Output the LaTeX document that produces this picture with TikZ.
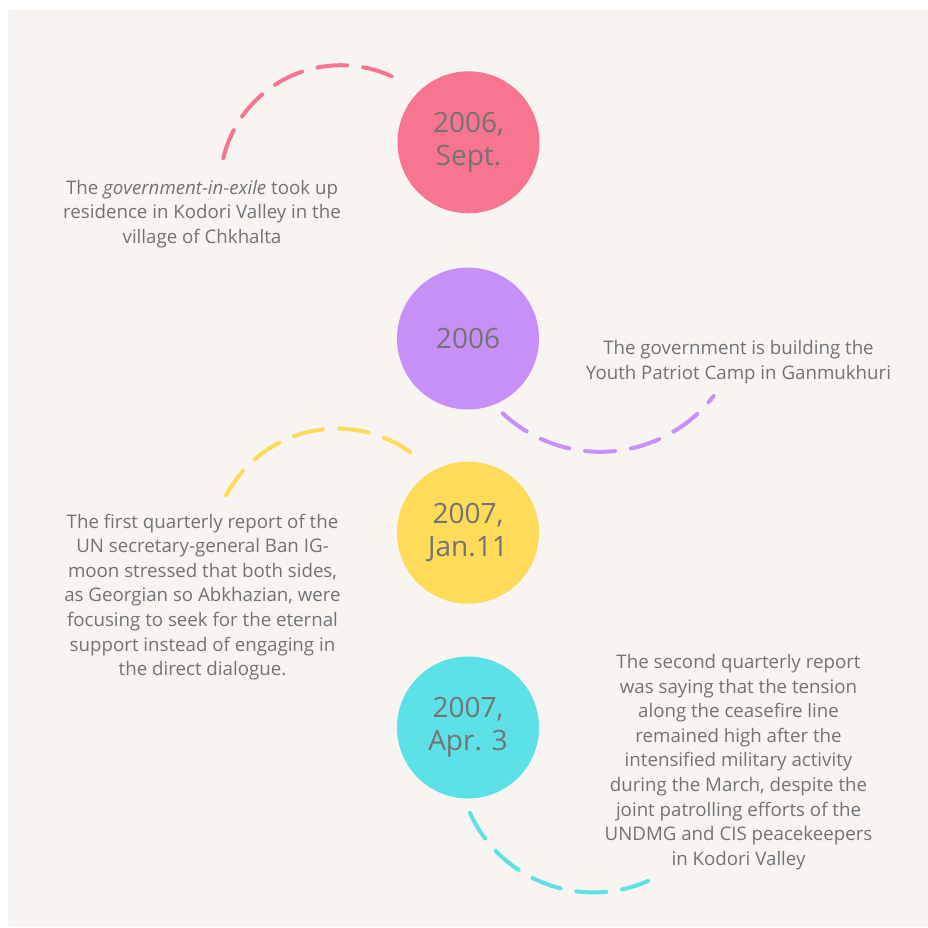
\documentclass[tikz,border=0pt]{standalone}
\usepackage{fontspec}
\setmainfont{Open Sans}
\definecolor{paper}{HTML}{F8F4F1}
\definecolor{inkgrey}{HTML}{737373}
\definecolor{rose}{HTML}{F7758F}
\definecolor{lilac}{HTML}{C78FF8}
\definecolor{sun}{HTML}{FFDB59}
\definecolor{aqua}{HTML}{5CE1E6}
\begin{document}
\begin{tikzpicture}[x=1pt,y=-1pt]
    \useasboundingbox (0,0) rectangle (928,927);
    \fill[paper] (8,10) rectangle (928,927);
    \tikzstyle{year}=[circle, minimum size=142pt, inner sep=0pt, text=inkgrey, align=center,
        font=\fontsize{28}{33}\selectfont]
    \tikzstyle{note}=[text=inkgrey, align=center, font=\fontsize{18.7}{24.6}\selectfont]
    \tikzstyle{trail}=[line width=4pt, line cap=round, dash pattern=on 30pt off 16pt]
    % years
    \node[year, fill=rose]  (sept06) at (468.5, 142.3) {2006,\\Sept.};
    \node[year, fill=lilac] (year06) at (468,   338.5) {2006};
    \node[year, fill=sun]   (jan07)  at (468,   532.7) {2007,\\Jan.11};
    \node[year, fill=aqua]  (apr07)  at (468,   727.5) {2007,\\Apr. 3};
    % events
    \node[note] (exile) at (202, 214) {The \textit{government-in-exile} took up\\residence in Kodori Valley in the\\village of Chkhalta};
    \node[note] (camp) at (738.5, 362) {The government is building the\\Youth Patriot Camp in Ganmukhuri};
    \node[note] (report1) at (202.5, 597) {The first quarterly report of the\\UN secretary-general Ban IG-\\moon stressed that both sides,\\as Georgian so Abkhazian, were\\focusing to seek for the eternal\\support instead of engaging in\\the direct dialogue.};
    \node[note] (report2) at (738.5, 762) {The second quarterly report\\was saying that the tension\\along the ceasefire line\\remained high after the\\intensified military activity\\during the March, despite the\\joint patrolling efforts of the\\UNDMG and CIS peacekeepers\\in Kodori Valley};
    % dashed trails
    \draw[trail, rose]  (341,186.2) ++(-166.6:121) arc[start angle=-166.6, end angle=-63, radius=121];
    \draw[trail, lilac] (600.3,308.8) ++(133:143) arc[start angle=133, end angle=37.6, radius=143];
    \draw[trail, sun]   (337.1,554.3) ++(-152:125.7) arc[start angle=-152, end angle=-53.4, radius=125.7];
    \draw[trail, aqua]  (593.5,756.6) ++(155.5:135.8) arc[start angle=155.5, end angle=66.3, radius=135.8];
\end{tikzpicture}
\end{document}
